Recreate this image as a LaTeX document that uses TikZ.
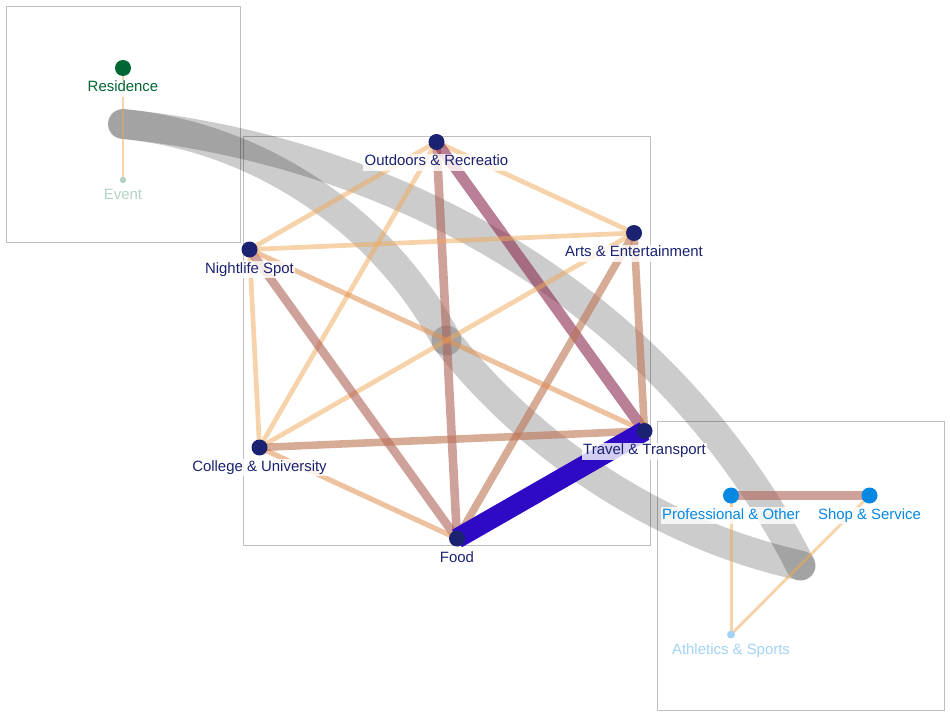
\documentclass[tikz,border=0pt]{standalone}
\usepackage{fontspec}
\setmainfont{Liberation Sans}
\usetikzlibrary{backgrounds}

\definecolor{navy}{HTML}{1A2271}
\definecolor{resgreen}{HTML}{006633}
\definecolor{evgreen}{HTML}{B3D4C4}
\definecolor{problue}{HTML}{0588E2}
\definecolor{athblue}{HTML}{A3D3F5}
\definecolor{wlight}{HTML}{F0A858}
\definecolor{worange}{HTML}{E0904E}
\definecolor{wbrown}{HTML}{BD7452}
\definecolor{wrose}{HTML}{AE6258}
\definecolor{wmauve}{HTML}{8A2A50}
\definecolor{wblue}{HTML}{2E0AC4}

\begin{document}
\begin{tikzpicture}[
    x = 0.02cm, y = -0.02cm, % one unit is one pixel
    font = \fontsize{8.5}{10}\selectfont
    ]

    \tikzset{
    dot/.style = {circle, inner sep = 0pt, minimum size = 0.32cm},
    smalldot/.style = {dot, minimum size = 0.13cm},
    lbl/.style = {fill = white, fill opacity = 0.8, text opacity = 1,
        inner xsep = 0.03cm, inner ysep = 0.02cm,
        text height = 0.225cm, text depth = 0.075cm,
        label distance = 0.06cm},
    clusterbox/.style = {draw = black!25, line width = 0.5pt},
    band/.style = {draw = black, draw opacity = 0.2, line width = 17pt,
        line cap = round},
    e1/.style = {draw = wlight, draw opacity = 0.5, line width = 1.7pt},
    e2/.style = {draw = wlight, draw opacity = 0.5, line width = 2.7pt},
    e3/.style = {draw = worange, draw opacity = 0.55, line width = 2.9pt},
    e4/.style = {draw = wbrown, draw opacity = 0.6, line width = 4.3pt},
    e5/.style = {draw = wrose, draw opacity = 0.6, line width = 4.9pt},
    e6/.style = {draw = wmauve, draw opacity = 0.6, line width = 6.2pt},
    e7/.style = {draw = wblue, line width = 11.4pt}
    }

    \useasboundingbox (0,0) rectangle (950,716);

    % cluster centres
    \coordinate (g1) at (123,124);
    \coordinate (g2) at (446.5,340.5);
    \coordinate (g3) at (800.5,565.5);

    % nodes
    \node[dot, fill = resgreen,
        label = {[lbl, text = resgreen]below:Residence}] (res) at (123,68) {};
    \node[smalldot, fill = evgreen,
        label = {[lbl, text = evgreen]below:Event}] (ev) at (123,180) {};

    \node[dot, fill = navy,
        label = {[lbl, text = navy]below:Outdoors \& Recreatio}] (out) at (436.5,142) {};
    \node[dot, fill = navy,
        label = {[lbl, text = navy]below:Arts \& Entertainment}] (art) at (634,233) {};
    \node[dot, fill = navy,
        label = {[lbl, text = navy]below:Nightlife Spot}] (night) at (249.5,249.5) {};
    \node[dot, fill = navy,
        label = {[lbl, text = navy]below:College \& University}] (coll) at (259.5,447.5) {};
    \node[dot, fill = navy,
        label = {[lbl, text = navy]below:Food}] (food) at (457,538.5) {};
    \node[dot, fill = navy,
        label = {[lbl, text = navy]below:Travel \& Transport}] (trav) at (644.5,431) {};

    \node[dot, fill = problue,
        label = {[lbl, text = problue]below:Professional \& Other}] (prof) at (731,495.5) {};
    \node[dot, fill = problue,
        label = {[lbl, text = problue]below:Shop \& Service}] (shop) at (869.5,495.5) {};
    \node[smalldot, minimum size = 0.16cm, fill = athblue,
        label = {[lbl, text = athblue]below:Athletics \& Sports}] (ath) at (731,634.5) {};

    \begin{scope}[on background layer]
    % cluster boxes
    \draw[clusterbox] (6,6) rectangle (240,242);
    \draw[clusterbox] (243.5,136.5) rectangle (650.5,545);
    \draw[clusterbox] (657.5,421.5) rectangle (944,710);

    % links between clusters
    \draw[band] (g1) .. controls (409,153) and (670,309) .. (g3);
    \draw[band] (g1) .. controls (260,137) and (384,222) .. (g2);
    \draw[band] (g2) .. controls (532,449) and (659,534) .. (g3);

    % edges inside clusters
    \path (res.center) edge[e1] (ev.center);

    \path (out.center) edge[e2] (art.center)
                       edge[e2] (night.center)
                       edge[e2] (coll.center)
                       edge[e5] (food.center)
                       edge[e6] (trav.center);
    \path (art.center) edge[e2] (night.center)
                       edge[e2] (coll.center)
                       edge[e4] (food.center)
                       edge[e4] (trav.center);
    \path (night.center) edge[e2] (coll.center)
                         edge[e5] (food.center)
                         edge[e3] (trav.center);
    \path (coll.center) edge[e3] (food.center)
                        edge[e4] (trav.center);
    \path (food.center) edge[e7] (trav.center);

    \path (prof.center) edge[e5] (shop.center)
                        edge[e1] (ath.center);
    \path (shop.center) edge[e1] (ath.center);
    \end{scope}
\end{tikzpicture}
\end{document}
